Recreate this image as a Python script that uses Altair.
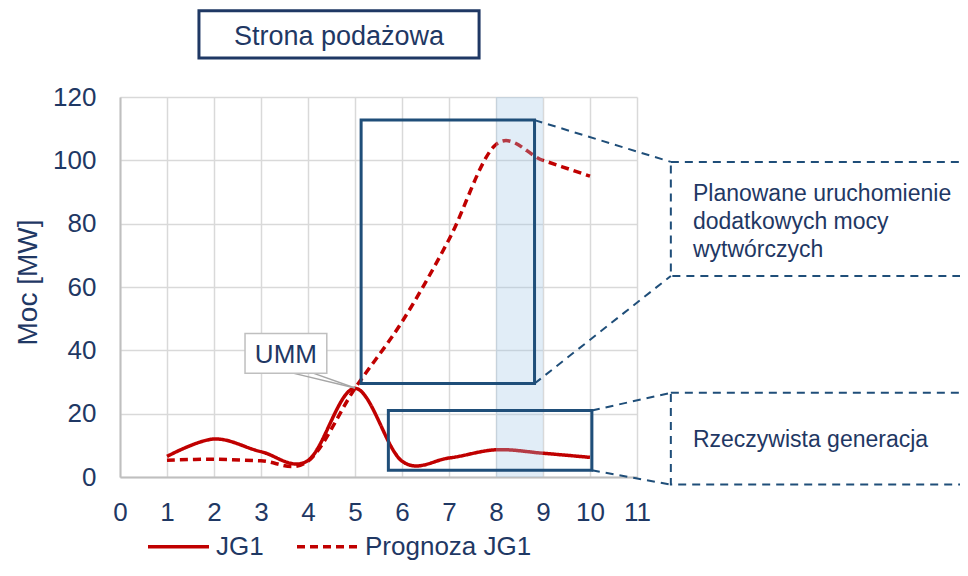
import altair as alt
import pandas as pd

# ---------------- data ----------------
x_points = [1, 2, 3, 4, 5, 6, 7, 8, 9, 10]
jg1_values = [6.5, 12.0, 8.0, 5.2, 28.0, 5.0, 6.0, 8.6, 7.5, 6.2]
prognoza_values = [5.3, 5.6, 5.1, 5.0, 28.0, 49.0, 75.0, 105.0, 100.0, 95.0]
series_names = ["JG1", "Prognoza JG1"]

x_ticks = list(range(0, 12))
y_ticks = [0, 20, 40, 60, 80, 100, 120]

# highlighted period (x from 8 to 9)
band_start = [8]
band_end = [9]

# highlight boxes on the plot (data units)
hl_x = [5.13, 5.71]
hl_x2 = [8.82, 10.04]
hl_y = [29.5, 2.1]
hl_y2 = [112.7, 21.0]

# dashed connectors from highlight boxes to note boxes
con_x = [8.82, 8.82, 10.04, 10.04]
con_y = [112.7, 29.5, 21.0, 2.1]
con_x2 = [11.72, 11.72, 11.72, 11.72]
con_y2 = [99.5, 63.5, 26.6, -2.4]

# note boxes and their texts
note_x = [11.72, 11.72]
note_x2 = [18.8, 18.8]
note_y = [63.5, -2.4]
note_y2 = [99.5, 26.6]
note_texts = ["Planowane uruchomienie\ndodatkowych mocy\nwytwórczych", "Rzeczywista generacja"]
note_text_x = [12.19, 12.19]
note_text_y = [87.2, 9.5]

# UMM callout
umm_label = ["UMM"]
umm_box_x = [2.66]
umm_box_x2 = [4.40]
umm_box_y = [32.8]
umm_box_y2 = [45.3]
umm_text_x = [3.53]
umm_text_y = [36.0]
umm_ptr_x = [3.68, 4.11]
umm_ptr_y = [32.8, 32.8]
umm_ptr_x2 = [5.0, 5.0]
umm_ptr_y2 = [28.1, 28.1]

# chart heading box
head_text = ["Strona podażowa"]
head_box_x = [1.68]
head_box_x2 = [7.64]
head_box_y = [132.3]
head_box_y2 = [147.2]
head_text_x = [4.66]
head_text_y = [136.4]

# ---------------- styling ----------------
FONT = "Liberation Sans"
TXT = "#1F3864"
NAVY = "#1F4E79"
RED = "#C00000"

xscale = alt.Scale(domain=[0, 11], nice=False, zero=False)
yscale = alt.Scale(domain=[0, 120], nice=False, zero=False)

xaxis = alt.Axis(values=x_ticks, title=None, grid=True, ticks=False,
                 labelPadding=22, labelFlush=False, labelOverlap=False,
                 format="d")
yaxis = alt.Axis(values=y_ticks, title="Moc [MW]", grid=True, ticks=False,
                 labelPadding=24, labelFlush=False, labelOverlap=False,
                 titleX=-92, titleY=185, titleAngle=270,
                 titleBaseline="middle", titleAlign="center",
                 titleFontSize=28, titleFont=FONT, titleColor=TXT,
                 titleFontWeight="normal", format="d")


def X(f):
    return alt.X(f, type="quantitative", scale=xscale, axis=xaxis)


def Y(f):
    return alt.Y(f, type="quantitative", scale=yscale, axis=yaxis)


legend = alt.Legend(orient="none", legendX=26, legendY=417,
                    direction="horizontal", title=None,
                    symbolType="stroke", symbolSize=3721,
                    symbolStrokeWidth=3.5, labelFontSize=26,
                    labelFont=FONT, labelColor=TXT, labelLimit=400,
                    labelOffset=5, columnPadding=26, padding=0)

# ---------------- tables ----------------
lines_df = pd.DataFrame({
    "x": x_points * 2,
    "value": jg1_values + prognoza_values,
    "series": [series_names[0]] * len(x_points) + [series_names[1]] * len(x_points),
})
band_df = pd.DataFrame({"x": band_start, "x2": band_end, "y": [0], "y2": [120]})
hl_df = pd.DataFrame({"x": hl_x, "x2": hl_x2, "y": hl_y, "y2": hl_y2})
con_df = pd.DataFrame({"x": con_x, "y": con_y, "x2": con_x2, "y2": con_y2})
note_df = pd.DataFrame({"x": note_x, "x2": note_x2, "y": note_y, "y2": note_y2})
note_txt_df = pd.DataFrame({"x": note_text_x, "y": note_text_y, "t": note_texts})
umm_box_df = pd.DataFrame({"x": umm_box_x, "x2": umm_box_x2, "y": umm_box_y, "y2": umm_box_y2})
umm_txt_df = pd.DataFrame({"x": umm_text_x, "y": umm_text_y, "t": umm_label})
umm_ptr_df = pd.DataFrame({"x": umm_ptr_x, "y": umm_ptr_y, "x2": umm_ptr_x2, "y2": umm_ptr_y2})
head_box_df = pd.DataFrame({"x": head_box_x, "x2": head_box_x2, "y": head_box_y, "y2": head_box_y2})
head_txt_df = pd.DataFrame({"x": head_text_x, "y": head_text_y, "t": head_text})

# ---------------- layers ----------------
lines = alt.Chart(lines_df).mark_line(interpolate="cardinal", strokeWidth=3.5).encode(
    x=X("x"),
    y=Y("value"),
    color=alt.Color("series:N", scale=alt.Scale(domain=series_names, range=[RED, RED]),
                    legend=legend),
    strokeDash=alt.StrokeDash("series:N",
                              scale=alt.Scale(domain=series_names, range=[[1, 0], [8, 5]]),
                              legend=legend),
    order="x:Q",
)

band = alt.Chart(band_df).mark_rect(color="#9DC3E6", opacity=0.3).encode(
    x=X("x"), x2="x2", y=Y("y"), y2="y2")

hl = alt.Chart(hl_df).mark_rect(fill=None, fillOpacity=0, stroke=NAVY, strokeWidth=3).encode(
    x=X("x"), x2="x2", y=Y("y"), y2="y2")

con = alt.Chart(con_df).mark_rule(color=NAVY, strokeWidth=2, strokeDash=[8, 6]).encode(
    x=X("x"), x2="x2", y=Y("y"), y2="y2")

notes = alt.Chart(note_df).mark_rect(fill=None, fillOpacity=0, stroke=NAVY, strokeWidth=2,
                                     strokeDash=[8, 6]).encode(
    x=X("x"), x2="x2", y=Y("y"), y2="y2")

note_txt = alt.Chart(note_txt_df).mark_text(align="left", baseline="alphabetic", font=FONT,
                                            fontSize=23, color=TXT, lineBreak="\n",
                                            lineHeight=28).encode(
    x=X("x"), y=Y("y"), text="t:N")

umm_ptr = alt.Chart(umm_ptr_df).mark_rule(color="#A6A6A6", strokeWidth=1.5).encode(
    x=X("x"), x2="x2", y=Y("y"), y2="y2")

umm_box = alt.Chart(umm_box_df).mark_rect(fill="white", stroke="#BFBFBF", strokeWidth=1.5).encode(
    x=X("x"), x2="x2", y=Y("y"), y2="y2")

umm_txt = alt.Chart(umm_txt_df).mark_text(align="center", baseline="alphabetic", font=FONT,
                                          fontSize=26, color=TXT).encode(
    x=X("x"), y=Y("y"), text="t:N")

head_box = alt.Chart(head_box_df).mark_rect(fill="white", stroke=TXT, strokeWidth=3).encode(
    x=X("x"), x2="x2", y=Y("y"), y2="y2")

head_txt = alt.Chart(head_txt_df).mark_text(align="center", baseline="alphabetic", font=FONT,
                                            fontSize=27, color=TXT).encode(
    x=X("x"), y=Y("y"), text="t:N")

chart = alt.layer(
    lines, band, hl, con, notes, note_txt, umm_ptr, umm_box, umm_txt, head_box, head_txt
).properties(
    width=517, height=380,
    autosize=alt.AutoSizeParams(type="none"),
    padding={"left": 112, "top": 89, "right": 323, "bottom": 86},
    background="white",
).configure_view(strokeWidth=0).configure_axis(
    domainColor="#BFBFBF", domainWidth=2,
    gridColor="#D9D9D9", gridWidth=1.5,
    labelFont=FONT, labelFontSize=26, labelColor=TXT,
)

chart.save("out.html", embed_options={"renderer": "svg", "actions": False})
